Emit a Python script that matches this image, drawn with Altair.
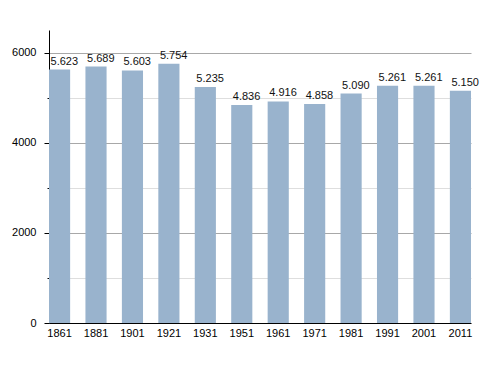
import altair as alt
import pandas as pd

years = ["1861", "1881", "1901", "1921", "1931", "1951", "1961", "1971", "1981", "1991", "2001", "2011"]
population = [5623, 5689, 5603, 5754, 5235, 4836, 4916, 4858, 5090, 5261, 5261, 5150]

df = pd.DataFrame({"year": years, "pop": population})

FONT = "Liberation Sans"

x = alt.X("year:O", sort=years, title=None,
          scale=alt.Scale(paddingInner=0.42, paddingOuter=0),
          axis=alt.Axis(labelAngle=0, ticks=False, grid=False, domainColor="black", labelFont=FONT,
                        labelFontSize=11, labelColor="black", labelPadding=4))
y = alt.Y("pop:Q", title=None,
          scale=alt.Scale(domain=[0, 6500], nice=False),
          axis=alt.Axis(values=list(range(0, 6501, 500)), format="d", grid=True,
                        labelExpr="datum.value % 2000 === 0 ? datum.label : ''",
                        gridColor={"condition": {"test": "datum.value % 2000 === 0 && datum.value > 0", "value": "#a8a8a8"}, "value": "#dedede"},
                        tickSize={"condition": {"test": "datum.value % 2000 === 0", "value": 5}, "value": 2},
                        domainColor="black", tickColor="black", labelFont=FONT, labelFontSize=11,
                        labelColor="black", labelPadding=8))

bars = alt.Chart(df).mark_bar(color="#99b3cd").encode(x=x, y=y)
text = alt.Chart(df).transform_calculate(
    lab="replace(format(datum.pop, ','), ',', '.')"
).mark_text(baseline="bottom", align="left", dx=-9, dy=-3, font=FONT, fontSize=11, color="#111111").encode(
    x=alt.X("year:O", sort=years), y="pop:Q", text="lab:N")

chart = alt.layer(bars, text).properties(
    width=422, height=293,
    autosize=alt.AutoSizeParams(type="none"),
    padding={"left": 41, "top": 22, "right": 20, "bottom": 40},
).configure_view(stroke=None)

chart.save("out.html", embed_options={"renderer": "svg", "actions": False})
